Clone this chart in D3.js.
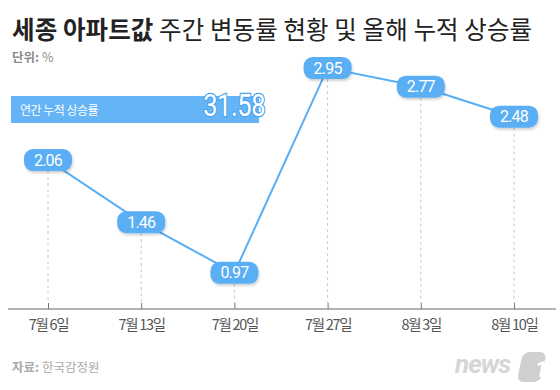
<!DOCTYPE html>
<html><head><meta charset="utf-8">
<script src="https://cdn.jsdelivr.net/npm/d3@7"></script>
<style>
html,body{margin:0;padding:0;background:#fff;}
svg{display:block;font-family:"Noto Sans CJK KR","Noto Sans",sans-serif;}
</style></head>
<body>
<svg id="c" width="560" height="390"></svg>
<script>
const categories = ["7월 6일","7월 13일","7월 20일","7월 27일","8월 3일","8월 10일"];
const values = [2.06, 1.46, 0.97, 2.95, 2.77, 2.48];
const labels = ["2.06","1.46","0.97","2.95","2.77","2.48"];
const cumulativeLabel = "연간 누적 상승률";
const cumulativeValue = "31.58";

const svg = d3.select("#c");
const blue = "#5aaef3";

// title
const t = svg.append("text").attr("x", 12).attr("y", 39).attr("font-size", 24.5).attr("fill", "#222").attr("letter-spacing", 0.1);
t.append("tspan").attr("font-weight", 700).text("세종 아파트값");
t.append("tspan").attr("font-weight", 400).text(" 주간 변동률 현황 및 올해 누적 상승률");

const u = svg.append("text").attr("x", 12).attr("y", 62).attr("font-size", 12.5).attr("fill", "#8a8a8a");
u.append("tspan").attr("font-weight", 700).text("단위:");
u.append("tspan").text(" %");

// scales
const x = d3.scalePoint().domain(categories).range([48, 514]);
const y = d3.scaleLinear().domain([0.62, 3]).range([309, 62.9]);

// axis
const axis = svg.append("g").attr("transform", "translate(0,309)");
axis.append("line").attr("x1", 8).attr("x2", 556).attr("stroke", "#666").attr("stroke-width", 1);
const ax = d3.axisBottom(x).tickSize(0).tickPadding(0);
const axG = svg.append("g").attr("transform", "translate(0,309)").call(ax);
axG.select(".domain").remove();
axG.selectAll(".tick line").remove();
axG.selectAll(".tick").append("line").attr("y1", -6).attr("y2", 0).attr("stroke", "#777");
axG.selectAll(".tick text").attr("y", 21).attr("font-size", 14.5).attr("fill", "#555")
  .attr("font-family", "'Noto Sans CJK KR',sans-serif").attr("letter-spacing", -1.3).attr("dy", "0");

// dashed drop lines
svg.append("g").selectAll("line").data(values).join("line")
  .attr("x1", (d,i) => x(categories[i])).attr("x2", (d,i) => x(categories[i]))
  .attr("y1", d => y(d) + 11).attr("y2", 303)
  .attr("stroke", "#c8c8c8").attr("stroke-dasharray", "3,3").attr("stroke-width", 1);

// banner
svg.append("rect").attr("x", 11).attr("y", 96).attr("width", 248).attr("height", 27).attr("fill", "#64b4f6");
svg.append("text").attr("x", 20).attr("y", 114.5).attr("font-size", 12).attr("fill", "#fff").attr("letter-spacing", -0.5).text(cumulativeLabel);
svg.append("text").attr("transform", "translate(265,116) scale(0.82,1)").attr("text-anchor", "end").attr("font-size", 31)
  .attr("font-family", "Roboto, sans-serif").attr("font-weight", 400).attr("letter-spacing", -0.5)
  .attr("fill", "#fff").attr("stroke", "#4aa3f0").attr("stroke-width", 2.5).attr("paint-order", "stroke").text(cumulativeValue);

// line
const line = d3.line().x((d,i) => x(categories[i])).y(d => y(d));
svg.append("path").datum(values).attr("d", line).attr("fill", "none").attr("stroke", blue).attr("stroke-width", 2);

// shadow filter
const defs = svg.append("defs");
const f = defs.append("filter").attr("id", "sh").attr("x", "-20%").attr("y", "-30%").attr("width", "140%").attr("height", "170%");
f.append("feDropShadow").attr("dx", 1).attr("dy", 2).attr("stdDeviation", 1.2).attr("flood-color", "#000").attr("flood-opacity", 0.18);

// labels
const lg = svg.append("g").selectAll("g").data(values).join("g")
  .attr("transform", (d,i) => `translate(${x(categories[i])},${y(d)})`);
lg.append("rect").attr("x", -24).attr("y", -11).attr("width", 48).attr("height", 22).attr("rx", 9)
  .attr("fill", blue).attr("filter", "url(#sh)");
lg.append("text").attr("text-anchor", "middle").attr("y", 5.5).attr("font-size", 16).attr("fill", "#fff")
  .attr("font-family", "Roboto, sans-serif").attr("letter-spacing", -0.8).text((d,i) => labels[i]);

// source
const s = svg.append("text").attr("x", 12).attr("y", 372).attr("font-size", 12.5).attr("fill", "#aaa");
s.append("tspan").attr("font-weight", 700).text("자료:");
s.append("tspan").text(" 한국감정원");

// logo
const logo = svg.append("g").attr("transform", "translate(455,347)");
logo.append("text").attr("x", 0).attr("y", 26).attr("font-size", 26).attr("font-weight", 700).attr("font-style", "italic")
  .attr("font-family", "Roboto, sans-serif").attr("fill", "#d6d6d6").attr("letter-spacing", -1).text("news");
logo.append("rect").attr("x", 69).attr("y", 5).attr("width", 24).attr("height", 30).attr("rx", 7)
  .attr("fill", "#d0d0d0").attr("transform", "skewX(-12)");
logo.append("text").attr("x", 80).attr("y", 30).attr("font-size", 22).attr("font-weight", 700).attr("font-style", "italic")
  .attr("font-family", "Roboto, sans-serif").attr("fill", "#fff").text("1");
</script>
</body></html>
